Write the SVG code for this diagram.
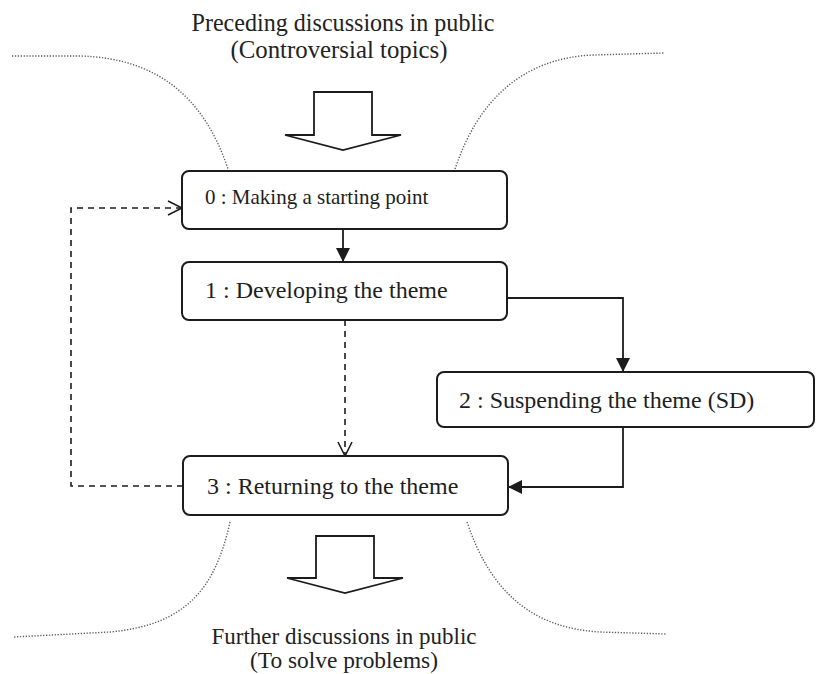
<svg xmlns="http://www.w3.org/2000/svg" width="818" height="674" viewBox="0 0 818 674">
  <style>
    .box { fill: #ffffff; stroke: #1c1c1c; stroke-width: 2; }
    .label { font-family: "Liberation Serif", "Times New Roman", serif; fill: #1e1e1e; }
    .title { font-family: "Liberation Serif", "Times New Roman", serif; fill: #222222; }
    .solid { fill: none; stroke: #1c1c1c; stroke-width: 1.8; }
    .dashed { fill: none; stroke: #1c1c1c; stroke-width: 1.6; stroke-dasharray: 6 5; }
    .dotted { fill: none; stroke: #5e5e5e; stroke-width: 1.4; stroke-dasharray: 1.3 1.6; }
    .block { fill: #ffffff; stroke: #1c1c1c; stroke-width: 1.8; stroke-linejoin: miter; }
  </style>
  <defs>
    <marker id="head-filled" markerUnits="userSpaceOnUse" markerWidth="16" markerHeight="16" refX="14" refY="7" orient="auto">
      <path d="M0,0 L14,7 L0,14 Z" fill="#1c1c1c" stroke="none"/>
    </marker>
    <marker id="head-open" markerUnits="userSpaceOnUse" markerWidth="18" markerHeight="18" refX="15" refY="8" orient="auto">
      <path d="M1,1 L15,8 L1,15" fill="none" stroke="#1c1c1c" stroke-width="1.6" stroke-dasharray="none"/>
    </marker>
  </defs>

  <rect width="818" height="674" fill="#ffffff"/>

  <!-- header and footer texts -->
  <g id="title-top">
    <text class="title" x="343" y="31" font-size="25" text-anchor="middle" textLength="303" lengthAdjust="spacingAndGlyphs">Preceding discussions in public</text>
    <text class="title" x="339" y="58" font-size="25" text-anchor="middle" textLength="217" lengthAdjust="spacingAndGlyphs">(Controversial topics)</text>
  </g>
  <g id="title-bottom">
    <text class="title" x="344" y="644" font-size="23" text-anchor="middle" textLength="265" lengthAdjust="spacingAndGlyphs">Further discussions in public</text>
    <text class="title" x="344" y="668" font-size="23" text-anchor="middle" textLength="188" lengthAdjust="spacingAndGlyphs">(To solve problems)</text>
  </g>

  <!-- funnel outlines -->
  <g id="funnel">
    <path class="dotted" d="M12,56 L80,56 C160,58 205,100 228,169"/>
    <path class="dotted" d="M455,169 C478,100 523,58 593,55 L664,53"/>
    <path class="dotted" d="M230,522 C215,590 185,625 110,632 L13,637"/>
    <path class="dotted" d="M467,522 C490,590 530,628 600,632 L667,634"/>
  </g>

  <!-- broad inflow / outflow arrows -->
  <g id="inflow">
    <polygon class="block" points="314,92 372,92 372,135 401,135 343,150 285,135 314,135"/>
  </g>
  <g id="outflow">
    <polygon class="block" points="316,536 374,536 374,578 403,578 345,593 287,578 316,578"/>
  </g>

  <!-- connectors -->
  <g id="connectors">
    <path class="solid" d="M343,229 L343,262" marker-end="url(#head-filled)"/>
    <path class="solid" d="M507,298 L623,298 L623,372" marker-end="url(#head-filled)"/>
    <path class="solid" d="M623,427 L623,487 L508,487" marker-end="url(#head-filled)"/>
    <path class="dashed" d="M345,320 L345,456" marker-end="url(#head-open)"/>
    <path class="dashed" d="M183,486 L71,486 L71,208 L182,208" marker-end="url(#head-open)"/>
  </g>

  <!-- phases -->
  <g id="node-0">
    <rect class="box" x="182" y="171" width="325" height="58" rx="7"/>
    <text class="label" x="205" y="204" font-size="21">0 : Making a starting point</text>
  </g>
  <g id="node-1">
    <rect class="box" x="182" y="262" width="325" height="58" rx="7"/>
    <text class="label" x="205" y="298" font-size="24">1 : Developing the theme</text>
  </g>
  <g id="node-2">
    <rect class="box" x="437" y="372" width="377" height="55" rx="7"/>
    <text class="label" x="459" y="408" font-size="24">2 : Suspending the theme (SD)</text>
  </g>
  <g id="node-3">
    <rect class="box" x="183" y="456" width="325" height="59" rx="7"/>
    <text class="label" x="207" y="494" font-size="24">3 : Returning to the theme</text>
  </g>
</svg>
